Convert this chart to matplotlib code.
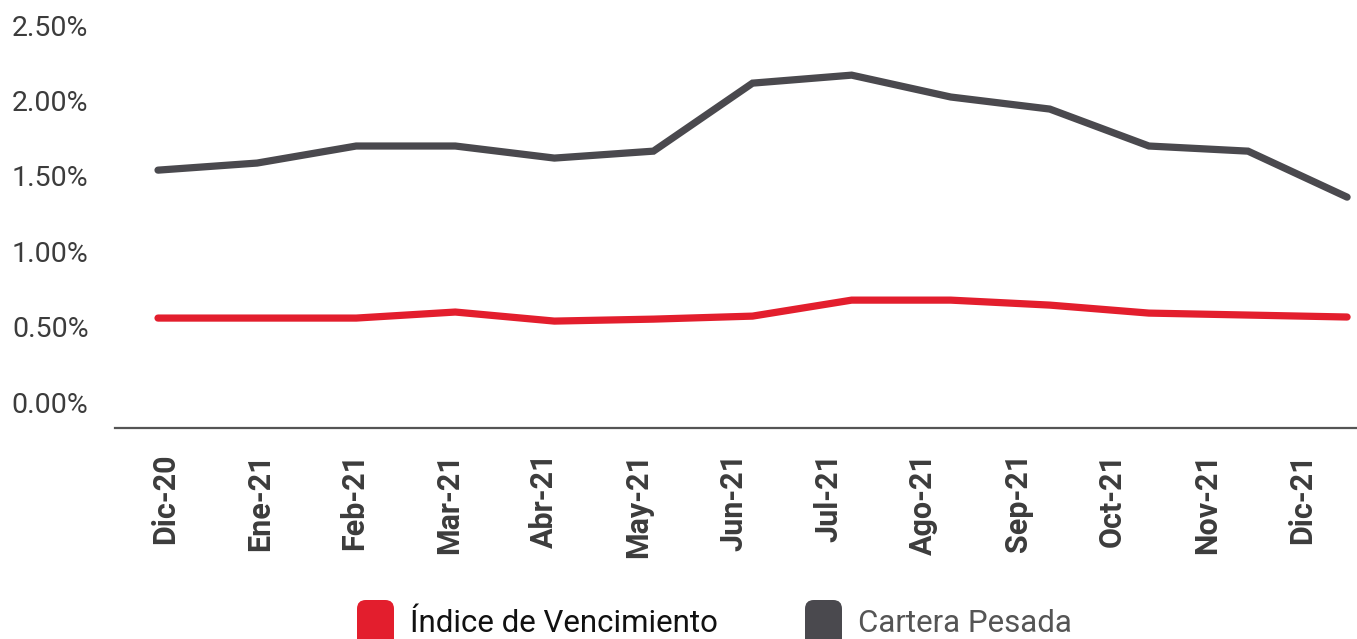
import matplotlib
matplotlib.use("Agg")
import matplotlib.pyplot as plt
from matplotlib.patches import FancyBboxPatch

months = ["Dic-20", "Ene-21", "Feb-21", "Mar-21", "Abr-21", "May-21", "Jun-21",
          "Jul-21", "Ago-21", "Sep-21", "Oct-21", "Nov-21", "Dic-21"]
indice_vencimiento = [0.557, 0.557, 0.557, 0.597, 0.537, 0.550, 0.570,
                      0.676, 0.676, 0.643, 0.590, 0.577, 0.564]
cartera_pesada = [1.538, 1.585, 1.698, 1.698, 1.618, 1.664, 2.115,
                  2.168, 2.023, 1.943, 1.698, 1.664, 1.359]
yticks = [0.0, 0.5, 1.0, 1.5, 2.0, 2.5]
series_names = ["Índice de Vencimiento", "Cartera Pesada"]

RED = "#E31E2D"
GRAY = "#4A494E"
TXT = "#3C3C3C"

plt.rcParams["font.family"] = ["Roboto", "DejaVu Sans"]

fig = plt.figure(figsize=(13.57, 6.39), dpi=100)
W, H = 1357, 639
ax = fig.add_axes([115 / W, 1 - 428 / H, (1357 - 115) / W, (428 - 10) / H])

x = list(range(len(months)))
ax.plot(x, cartera_pesada, color=GRAY, lw=5.2, solid_capstyle="round",
        solid_joinstyle="miter", zorder=3)
ax.plot(x, indice_vencimiento, color=RED, lw=5.2, solid_capstyle="round",
        solid_joinstyle="miter", zorder=3)

ax.set_xlim(-0.434, 12.1)
ax.set_ylim(-0.172, 2.6)

ax.set_yticks(yticks)
ax.set_yticklabels([f"{v:.2f}%" for v in yticks], fontsize=20.5, color=TXT)
tick_pos = [0.07 + 0.956 * i for i in x]
ax.set_xticks(tick_pos)
ax.set_xticklabels(months, rotation=90, fontsize=22, fontweight="bold", color=TXT)
ax.tick_params(axis="y", length=0, pad=19)
ax.tick_params(axis="x", length=0, pad=18)

for s in ["top", "right", "left"]:
    ax.spines[s].set_visible(False)
ax.spines["bottom"].set_color("#555555")
ax.spines["bottom"].set_linewidth(1.6)

# legend
colors = [RED, GRAY]
box_x = [357, 805]
txt_x = [410, 858]
txt_col = ["#111111", "#555555"]
for name, c, bx, tx, tc in zip(series_names, colors, box_x, txt_x, txt_col):
    p = FancyBboxPatch((bx / W, 1 - 648 / H), 37 / W, 48 / H,
                       boxstyle="round,pad=0,rounding_size=0.0065",
                       transform=fig.transFigure, facecolor=c, edgecolor="none",
                       mutation_aspect=W / H)
    fig.patches.append(p)
    fig.text(tx / W, 1 - 632 / H, name, fontsize=22.5, color=tc, ha="left",
             va="baseline")

fig.savefig("out.png", dpi=100)
